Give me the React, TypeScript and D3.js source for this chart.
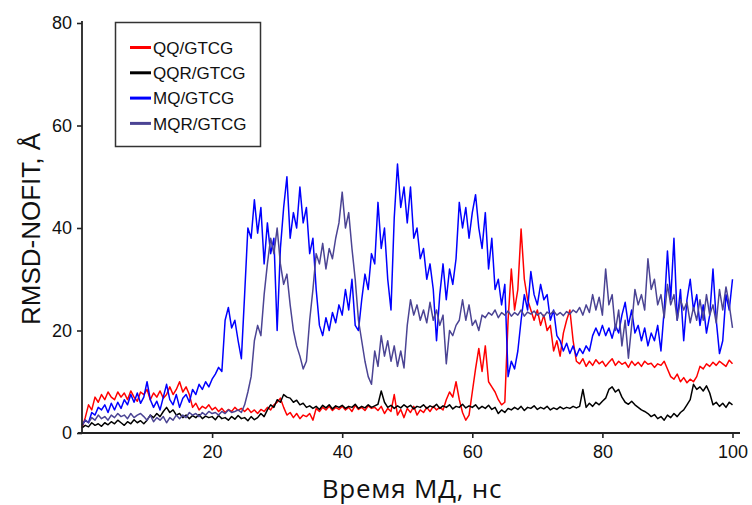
import * as d3 from 'd3';
import { useEffect, useRef } from 'react';

// RMSD-NOFIT vs MD time, sampled every 0.5 ns (0..100 ns)
const timeNs = d3.range(0, 201).map(i => i * 0.5);

const qqGtcg = [
    1, 3, 5.5, 4.5, 7, 6, 7.5, 6.5, 8, 7,
    6.5, 8, 7, 7.8, 6.5, 8.2, 7, 6.2, 8, 7.5,
    8.5, 6.5, 7.8, 7, 8.2, 6.8, 7.5, 9, 7.5, 8.5,
    10, 8, 9, 7.5, 5, 5.8, 4.5, 5.2, 4.8, 5.5,
    4.5, 5, 4.2, 4.8, 4, 4.6, 4.2, 5, 4.4, 4.8,
    4.2, 4.8, 4, 4.5, 3.8, 4.6, 4.2, 5, 4.5, 5.5,
    6, 6.8, 5, 3.5, 4, 3, 3.8, 2.8, 3.5, 3.2,
    3.8, 2.5, 4.8, 4.2, 5, 4.5, 5.2, 4.4, 5, 4.6,
    5.2, 4.5, 5, 4.2, 5.4, 4.6, 5, 4.4, 5.3, 4.8,
    5, 4.4, 5.2, 3.8, 4.8, 4.2, 7.5, 3.5, 4.6, 3,
    4.8, 4, 5.2, 3.5, 4.5, 4, 5, 4.2, 5.2, 4.5,
    5, 4.5, 6.5, 8, 7, 10, 6.5, 4, 2.5, 3.5,
    8, 12.5, 16.5, 12, 17, 10, 9, 8, 6.5, 5.5,
    6, 22, 32, 24, 28, 39.8, 30, 26, 24, 22,
    24, 21, 23, 20, 21, 16, 18, 15, 19.5, 22,
    24, 18, 14, 13.5, 14.5, 13, 14, 13.2, 14.3, 13.5,
    14, 13, 13.8, 14.5, 13.2, 14, 13.4, 13.8, 12.8, 14,
    13.2, 13.8, 13, 14, 13.4, 13.6, 12.8, 13.5, 13.2, 14,
    12.5, 11, 10.5, 11.5, 10, 10.8, 9.8, 10.5, 10, 11,
    13, 12.5, 13.5, 13, 13.8, 13.2, 14, 13.5, 13, 14.2,
    13.5,
];

const qqrGtcg = [
    1, 1.5, 1.2, 2, 1.5, 1.8, 1.3, 2, 1.6, 2.2,
    1.8, 2.5, 2, 1.5, 2.2, 1.8, 2.6, 2, 2.4, 1.8,
    2.5, 3.5, 3, 3.8, 3.2, 4.2, 5, 4, 4.5, 3.5,
    3.8, 3, 3.5, 2.8, 3.4, 3, 3.6, 2.8, 3.3, 3,
    3.2, 2.6, 3.4, 2.8, 3, 2.5, 3.2, 2.7, 3.4, 2.8,
    3, 2.4, 3.2, 2.6, 3, 3.8, 3.2, 4.5, 5.5, 5,
    6.5, 6, 7.5, 7, 6.8, 6, 6.4, 5.5, 5.8, 5,
    5.3, 4.8, 5.2, 4.6, 5.4, 4.9, 5.5, 4.7, 5.3, 5,
    5.4, 4.8, 5.2, 5, 5.6, 4.8, 5.2, 4.9, 5.5, 5,
    5.3, 5.6, 8.2, 6, 5, 5.4, 4.8, 5.3, 4.9, 5.5,
    5, 5.4, 4.7, 5.2, 5, 5.5, 4.8, 5.3, 5, 5.6,
    4.8, 5.3, 5, 5.5, 4.7, 5.2, 5, 5.6, 4.9, 5.3,
    5, 5.5, 4.7, 5.2, 4.8, 5.4, 4.6, 5, 3.8, 4.5,
    4, 4.8, 4.5, 5, 4.6, 5.2, 4.4, 5, 4.8, 5.3,
    4.6, 5, 4.7, 5.2, 4.5, 4.9, 4.6, 5.1, 4.7, 5,
    4.8, 5.2, 4.9, 5.2, 8.5, 5, 5.8, 5.2, 6, 5.5,
    6.2, 6.8, 8.5, 9, 8, 8.5, 7, 6, 5.6, 6.2,
    5.5, 5, 4.5, 4.2, 3.8, 3.2, 3.6, 2.8, 3.2, 2.5,
    3.5, 3, 3.8, 3.2, 4, 4.5, 5.5, 6.5, 9.5, 8.5,
    9, 8.2, 9.2, 7.8, 5.5, 6, 5.2, 5.8, 5, 6,
    5.5,
];

const mqGtcg = [
    1.5, 2.5, 2, 4, 3.5, 5, 4.5, 5.5, 4, 5.8,
    4.5, 6, 4.8, 6.5, 5.5, 7.5, 6, 7.8, 5.8, 7,
    10, 6.5, 5, 6.2, 4.5, 7, 9.5, 6.5, 5.5, 7.5,
    5, 6.8, 7.5, 6, 8.5, 7.5, 9.5, 8.5, 10, 9,
    10.5, 11.5, 12.8, 12, 22, 24.5, 20.5, 22, 18, 14.5,
    27, 40, 38, 45.5, 39, 44, 33, 41, 35, 38,
    20, 36, 44, 50, 38, 43, 40, 48, 41, 44,
    35, 38, 28, 21, 19, 22.5, 20, 23.5, 21.5, 25,
    23, 28, 24, 30, 21, 20, 26, 31, 28, 35,
    33, 45, 36, 40, 30, 24, 42, 52.5, 44, 48,
    41, 48, 38, 40, 34, 36, 30, 33, 28, 18,
    27, 33, 26, 32, 29, 34, 45, 40, 44, 38,
    43, 46.5, 40, 36, 43, 32, 38, 28, 30, 25,
    29, 11, 14, 12.5, 16, 22, 27, 24, 31.5, 27,
    25, 29, 26, 27, 22, 24, 19, 18, 16, 17.5,
    15.5, 17, 15, 16.5, 15.5, 17, 16, 19, 20.5, 19,
    21, 19, 20.5, 18.5, 21, 19.5, 23, 25.5, 21, 24,
    19.5, 21, 18, 20.5, 17, 19.5, 18, 21, 16, 24,
    35.5, 26, 38, 22, 28, 18, 26, 30, 24, 27,
    21, 25, 19.5, 23, 32, 22, 15.5, 18, 27, 24,
    30,
];

const mqrGtcg = [
    1.5, 2.5, 2, 3, 2.5, 3.5, 2.8, 3.2, 2.5, 3.5,
    3, 3.8, 3.2, 3.5, 2.8, 3.8, 3, 3.5, 3.8, 3.2,
    2.5, 3.5, 2.2, 3, 2.5, 3.2, 2, 3, 2.5, 3.5,
    2.8, 3.5, 3, 4, 3.5, 3.8, 3.2, 4, 3.5, 4.2,
    3.8, 4, 3.5, 4.2, 3.8, 4.5, 4, 4.2, 4.5, 4,
    5.5, 8, 11, 18, 21, 19, 27, 33, 38, 35,
    40, 33, 29, 31, 25, 20, 17, 15, 12.5, 14,
    22, 28, 35, 33, 37, 32, 36, 34, 38, 41,
    47, 40, 43, 36, 30, 22, 18, 14, 11, 9.5,
    16, 13, 19, 15, 18, 14, 17, 13, 16, 12.7,
    21, 26, 23, 25, 22, 24, 21.5, 25.5, 22, 24,
    21, 23, 13.5, 20, 19, 21, 22, 26, 22, 25,
    21, 22, 20, 23, 22.5, 23.5, 23, 24, 22.5, 23.5,
    23, 23.8, 22.8, 23.5, 23, 24, 22.8, 23.6, 23.2, 23.8,
    23, 23.5, 22.7, 23.6, 23.2, 23.8, 23, 23.5, 22.9, 23.7,
    23.2, 24, 23.5, 24.5, 23, 25, 23.5, 27, 24, 26.5,
    23, 32, 25, 27, 20, 24, 17, 22, 14.6, 21,
    28, 25, 27, 24, 34, 28, 30, 25, 27, 22.5,
    29, 25, 27, 22, 26, 24, 25.5, 21.5, 24.5, 22,
    26, 22, 27, 23, 25, 21.5, 28, 24, 28.5, 25,
    20.5,
];

const seriesNames = ['QQ/GTCG', 'QQR/GTCG', 'MQ/GTCG', 'MQR/GTCG'];
const seriesValues = [qqGtcg, qqrGtcg, mqGtcg, mqrGtcg];
const seriesColors = ['#ff0000', '#000000', '#0000ff', '#4b4494'];

const xTicks = [20, 40, 60, 80, 100];
const yTicks = [0, 20, 40, 60, 80];

function App() {
    const d3Container = useRef(null);

    useEffect(() => {
        const width = 752, height = 505;
        const svg = d3.select(d3Container.current)
            .append('svg')
            .attr('width', width)
            .attr('height', height)
            .style('position', 'absolute')
            .style('left', 0)
            .style('top', 0)
            .style('background', '#fff');

        const xScale = d3.scaleLinear().domain([0, 100]).range([82, 732.5]);
        const yScale = d3.scaleLinear().domain([0, 80]).range([433, 23]);

        const line = d3.line<number>()
            .x((_, i) => xScale(timeNs[i]))
            .y(d => yScale(d));

        seriesValues.forEach((vals, k) => {
            svg.append('path')
                .datum(vals)
                .attr('fill', 'none')
                .attr('stroke', seriesColors[k])
                .attr('stroke-width', 1.5)
                .attr('stroke-linejoin', 'round')
                .attr('d', line);
        });

        const font = "'Liberation Sans', Arial, sans-serif";

        // axes
        const yAxis = d3.axisLeft(yScale).tickValues(yTicks).tickSize(5).tickPadding(5);
        const gy = svg.append('g').attr('transform', 'translate(82, 0)').call(yAxis);
        const xAxis = d3.axisBottom(xScale).tickValues(xTicks).tickSize(5).tickPadding(7);
        const gx = svg.append('g').attr('transform', 'translate(0, 433)').call(xAxis);
        [gx, gy].forEach(g => {
            g.select('.domain').remove();
            g.selectAll('line').attr('stroke', '#222').attr('stroke-width', 1.6);
            g.selectAll('text')
                .attr('fill', '#111')
                .style('font-family', font)
                .style('font-size', '18px');
        });
        svg.append('line')
            .attr('x1', 82).attr('x2', 82).attr('y1', 21).attr('y2', 434)
            .attr('stroke', '#222').attr('stroke-width', 1.8);
        svg.append('line')
            .attr('x1', 78).attr('x2', 740).attr('y1', 433).attr('y2', 433)
            .attr('stroke', '#222').attr('stroke-width', 1.8);

        // axis titles
        svg.append('text')
            .attr('x', 412)
            .attr('y', 498)
            .attr('text-anchor', 'middle')
            .style('font-family', "'Open Sans', sans-serif")
            .style('font-size', '26px')
            .style('letter-spacing', '0.8px')
            .attr('fill', '#111')
            .text('Время МД, нс');

        svg.append('text')
            .attr('transform', 'rotate(-90)')
            .attr('x', -229)
            .attr('y', 40)
            .attr('text-anchor', 'middle')
            .style('font-family', font)
            .style('font-size', '26px')
            .attr('fill', '#111')
            .text('RMSD-NOFIT, Å');

        // legend
        const legend = svg.append('g');
        legend.append('rect')
            .attr('x', 115.5).attr('y', 22.5)
            .attr('width', 145).attr('height', 124)
            .attr('fill', '#fff')
            .attr('stroke', '#333')
            .attr('stroke-width', 1.5);
        seriesNames.forEach((name, k) => {
            const cy = 47.5 + k * 25.3;
            legend.append('line')
                .attr('x1', 130).attr('x2', 151)
                .attr('y1', cy).attr('y2', cy)
                .attr('stroke', seriesColors[k])
                .attr('stroke-width', 3);
            legend.append('text')
                .attr('x', 153)
                .attr('y', cy)
                .attr('dy', '0.36em')
                .style('font-family', font)
                .style('font-size', '17px')
                .attr('fill', '#111')
                .text(name);
        });

        return () => {
            svg.remove();
        };
    }, []);

    return (
        <div ref={d3Container} />
    );
}

export default App;
